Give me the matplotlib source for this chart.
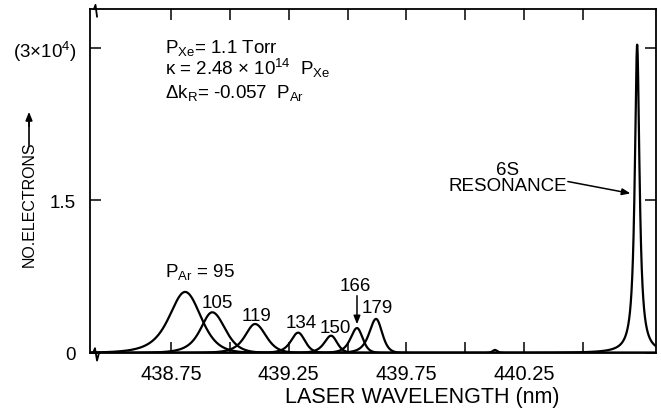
import numpy as np
import matplotlib.pyplot as plt

plt.rcParams['font.family'] = ['Liberation Sans', 'DejaVu Sans']
plt.rcParams['mathtext.fontset'] = 'custom'
plt.rcParams['mathtext.rm'] = 'Liberation Sans'
plt.rcParams['mathtext.it'] = 'Liberation Sans:italic'
plt.rcParams['mathtext.bf'] = 'Liberation Sans:bold'

# Ar pressure series (Torr): line centre (nm), peak height (units of 1e4 electrons),
# half widths on the blue and red side (nm)
p_ar = [95, 105, 119, 134, 150, 166, 179]
centers = [438.810, 438.925, 439.107, 439.290, 439.430, 439.540, 439.621]
heights = [0.60, 0.40, 0.285, 0.20, 0.17, 0.245, 0.335]
w_left = [0.080, 0.058, 0.050, 0.036, 0.034, 0.032, 0.034]
w_right = [0.078, 0.064, 0.054, 0.034, 0.030, 0.028, 0.030]

# 6S resonance and the weak feature near 440.13 nm
res_center = 440.730
res_height = 3.03
res_width = 0.012
bump_center = 440.126
bump_height = 0.03
bump_width = 0.012

xticks = [438.75, 439.0, 439.25, 439.5, 439.75, 440.0, 440.25, 440.5]
xticklabels = ['438.75', '', '439.25', '', '439.75', '', '440.25', '']
yticks = [0, 1.5, 3]
yticklabels = ['0', '1.5', '(3×10$^{4}$)']


def profile(x, c, h, wl, wr, ml=2.0, mr=4.0):
    # asymmetric Pearson-VII line shape, long tail on the short-wavelength side
    d = x - c
    w = np.where(d < 0, wl, wr)
    m = np.where(d < 0, ml, mr)
    return h / (1 + (2 ** (1 / m) - 1) * (d / w) ** 2) ** m


fig = plt.figure(figsize=(6.61, 4.10), dpi=100)
ax = fig.add_axes([90 / 661, 1 - 354 / 410, 566 / 661, 344 / 410])

x0, x1 = 438.406, 440.81
wl = np.linspace(x0, x1, 6000)
lw = 1.6

for c, h, a, b in zip(centers, heights, w_left, w_right):
    ax.plot(wl, profile(wl, c, h, a, b), color='black', lw=lw)

ax.plot(wl, profile(wl, bump_center, bump_height, bump_width, bump_width, 2, 2),
        color='black', lw=lw)
ax.plot(wl, profile(wl, res_center, res_height, res_width, res_width, 1, 1),
        color='black', lw=lw)

ax.set_xlim(x0, x1)
ax.set_ylim(0, 3.38)
ax.set_xticks(xticks)
ax.set_xticklabels(xticklabels)
ax.set_yticks(yticks)
ax.set_yticklabels(yticklabels)
ax.tick_params(direction='in', length=8, width=1.1, top=True, right=True,
               labelsize=14.5, pad=8)
ax.tick_params(axis='y', labelsize=13.5, pad=10)
for s in ax.spines.values():
    s.set_linewidth(1.3)

ax.set_xlabel('LASER WAVELENGTH (nm)', fontsize=15.5)
ax.xaxis.set_label_coords((422 - 90) / 566, -0.095)

# y label with arrow pointing up
fig.text(29 / 661, 1 - 204 / 410, 'NO.ELECTRONS', rotation=90, fontsize=11.5,
         ha='center', va='center')
fig.add_artist(plt.Line2D([29 / 661, 29 / 661], [1 - 146 / 410, 1 - 118 / 410],
                          color='black', lw=1.2))
ax.annotate('', xy=(29 / 661, 1 - 110 / 410), xycoords='figure fraction',
            xytext=(29 / 661, 1 - 130 / 410), textcoords='figure fraction',
            arrowprops=dict(arrowstyle='-|>,head_length=0.5,head_width=0.2',
                            color='black', lw=1.2))

# axis break marks on the left end of the frame
brk = dict(color='black', lw=1.3, transform=ax.transAxes, clip_on=False)
ax.plot([0.0053, 0.0088, 0.0124, 0.0159], [0, 0.014, -0.022, 0], **brk)
ax.plot([0.0071, 0.0097, 0.0124], [1, 1.012, 0.978], **brk)

# experimental conditions
fs = 13.5
ax.text(438.725, 2.96, 'P$_{\\mathrm{Xe}}$= 1.1 Torr', fontsize=fs, va='baseline')
ax.text(438.725, 2.74, 'κ = 2.48 × 10$^{14}$  P$_{\\mathrm{Xe}}$', fontsize=fs, va='baseline')
ax.text(438.725, 2.52, 'Δk$_{\\mathrm{R}}$= -0.057  P$_{\\mathrm{Ar}}$', fontsize=fs, va='baseline')

# pressure labels for each line
lab_x = [438.725, 438.882, 439.052, 439.238, 439.383, 439.532, 439.561]
lab_y = [0.757, 0.452, 0.324, 0.256, 0.206, 0.62, 0.403]
for i, (p, lx, ly) in enumerate(zip(p_ar, lab_x, lab_y)):
    txt = 'P$_{\\mathrm{Ar}}$ = %d' % p if i == 0 else str(p)
    ha = 'center' if p == 166 else 'left'
    ax.text(lx, ly, txt, fontsize=13.5, va='baseline', ha=ha)

ax.annotate('', xy=(centers[5], heights[5] + 0.01), xytext=(centers[5], 0.59),
            arrowprops=dict(arrowstyle='-|>,head_length=0.5,head_width=0.2',
                            color='black', lw=1.1))

ax.text(440.18, 1.6, '6S\nRESONANCE', fontsize=13.5, ha='center', va='baseline',
        linespacing=0.95)
ax.annotate('', xy=(440.713, 1.563), xytext=(440.424, 1.69),
            arrowprops=dict(arrowstyle='-|>,head_length=0.5,head_width=0.2',
                            color='black', lw=1.1))

fig.savefig('out.png', dpi=100)
